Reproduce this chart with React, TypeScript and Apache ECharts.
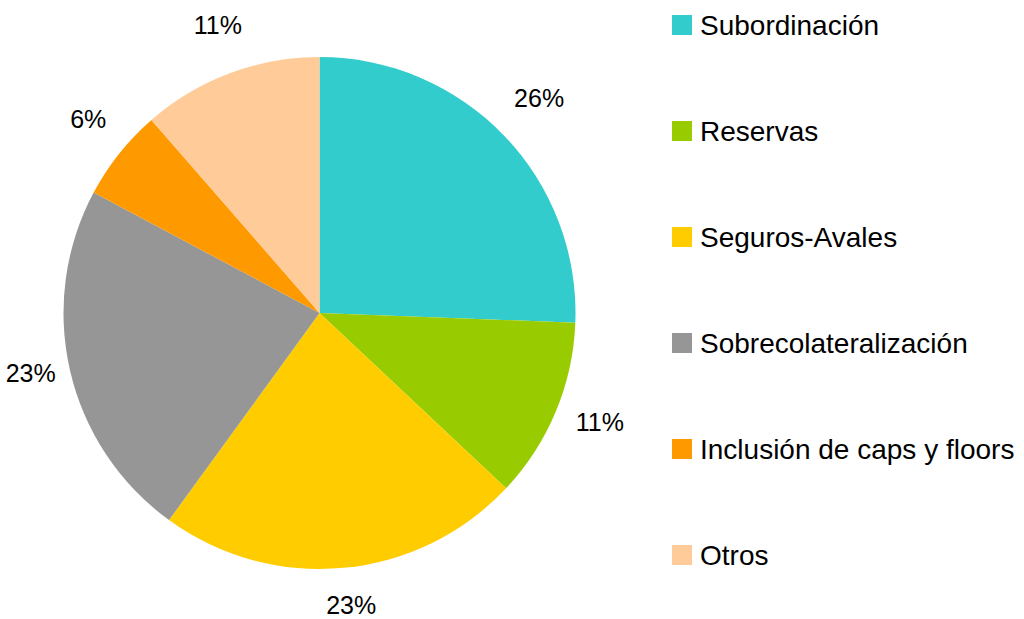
import React, { useEffect, useRef } from "react";
import * as echarts from "echarts";

const categories = [
  "Subordinación",
  "Reservas",
  "Seguros-Avales",
  "Sobrecolateralización",
  "Inclusión de caps y floors",
  "Otros",
];
const values = [25.6, 11.4, 23.0, 22.8, 5.8, 11.4];
const colors = ["#33CCCC", "#99CC00", "#FFCC00", "#969696", "#FF9900", "#FFCC99"];

const CX = 319.5;
const CY = 313;
const R = 256;
const LABEL_CX = 323;
const LABEL_CY = 306;
const LABEL_R = 300;

export default function App() {
  const ref = useRef<HTMLDivElement>(null);
  useEffect(() => {
    if (!ref.current) return;
    const chart = echarts.init(ref.current, null, { renderer: "svg" });
    const total = values.reduce((a, b) => a + b, 0);
    const mids: number[] = [];
    let acc = 0;
    values.forEach((v) => {
      mids.push(((acc + v / 2) / total) * Math.PI * 2);
      acc += v;
    });
    chart.setOption({
      animation: false,
      backgroundColor: "#ffffff",
      legend: {
        orient: "vertical",
        left: 672,
        top: 11,
        padding: 0,
        itemWidth: 20,
        itemHeight: 20,
        itemGap: 78,
        icon: "rect",
        data: categories,
        textStyle: {
          fontFamily: "Liberation Sans",
          fontSize: 28,
          color: "#000000",
          padding: [0, 0, 0, 3],
        },
      },
      series: [
        {
          type: "pie",
          center: [CX, CY],
          radius: R,
          startAngle: 90,
          clockwise: true,
          avoidLabelOverlap: false,
          data: categories.map((c, i) => ({
            name: c,
            value: values[i],
            itemStyle: { color: colors[i] },
          })),
          label: {
            show: true,
            position: "inside",
            formatter: (p: any) => Math.round(p.percent) + "%",
            fontFamily: "Liberation Sans",
            fontSize: 25,
            color: "#000000",
          },
          labelLine: { show: false },
          labelLayout: (p: any) => {
            const a = mids[p.dataIndex];
            return {
              x: LABEL_CX + LABEL_R * Math.sin(a),
              y: LABEL_CY - LABEL_R * Math.cos(a),
              align: "center",
              verticalAlign: "middle",
            };
          },
          emphasis: { disabled: true },
        },
      ],
    });
    return () => chart.dispose();
  }, []);
  return (
    <div
      ref={ref}
      style={{ position: "fixed", left: 0, top: 0, width: 1024, height: 619 }}
    />
  );
}
